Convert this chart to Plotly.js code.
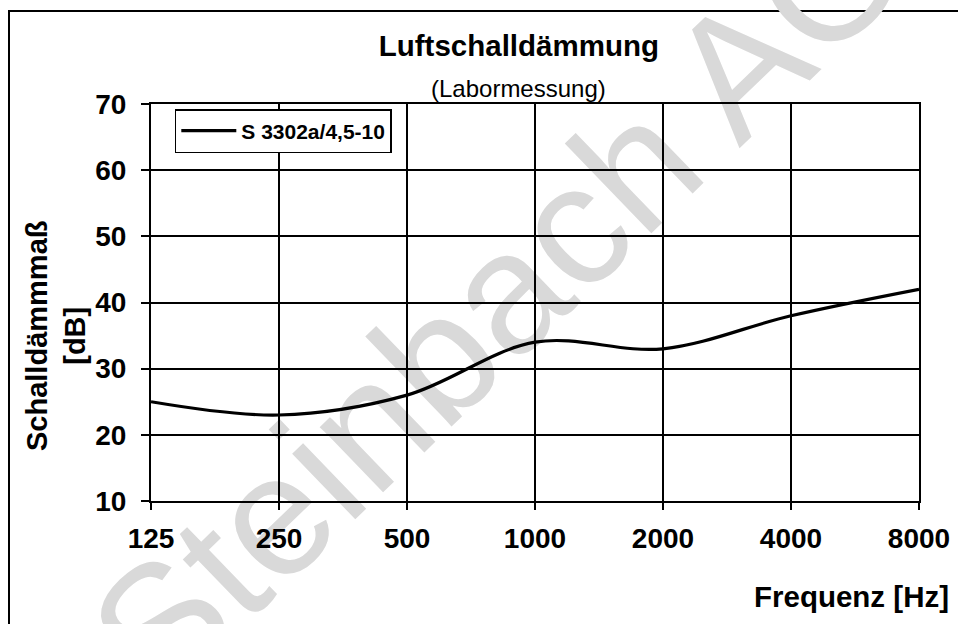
<!DOCTYPE html>
<html><head><meta charset="utf-8">
<script src="https://cdn.plot.ly/plotly-3.0.1.min.js"></script>
<style>
html,body{margin:0;padding:0;width:958px;height:624px;overflow:hidden;background:#fff;}
#frame{position:absolute;left:8px;top:10px;width:1000px;height:700px;border:2px solid #000;box-sizing:border-box;}
#wm{position:absolute;left:498px;top:298px;transform:translate(-50%,-50%) rotate(-44deg);font-family:"Liberation Sans",Arial,sans-serif;font-size:172px;color:#d9d9d9;white-space:nowrap;line-height:1;}
#chart{position:absolute;left:0;top:0;width:958px;height:624px;}
</style></head><body>
<div id="frame"></div>
<div id="wm">Steinbach AG</div>
<div id="chart"></div>
<script>
const frequencies = [125, 250, 500, 1000, 2000, 4000, 8000];
const frequencyLabels = ['125', '250', '500', '1000', '2000', '4000', '8000'];
const soundReduction = [25, 23, 26, 34, 33, 38, 42];
const seriesName = 'S 3302a/4,5-10';
const yTicks = [10, 20, 30, 40, 50, 60, 70];

const FONT = '"Liberation Sans", Arial, sans-serif';

const trace = {
  x: frequencies,
  y: soundReduction,
  name: seriesName,
  type: 'scatter',
  mode: 'lines',
  line: {color: '#000', width: 3.2, shape: 'spline', smoothing: 1},
  showlegend: true
};

const axisCommon = {
  showgrid: true, gridcolor: '#000', gridwidth: 2,
  showline: true, linecolor: '#000', linewidth: 2, mirror: true,
  ticks: 'outside', tickcolor: '#000', tickwidth: 2,
  zeroline: false,
  tickfont: {family: FONT, size: 28, color: '#000', weight: 700}
};

const layout = {
  width: 958, height: 624,
  margin: {l: 151, r: 39, t: 104, b: 123, pad: 0},
  paper_bgcolor: 'rgba(0,0,0,0)',
  plot_bgcolor: 'rgba(0,0,0,0)',
  font: {family: FONT, color: '#000'},
  title: {
    text: 'Luftschalldämmung',
    font: {family: FONT, size: 29.5, color: '#000', weight: 700},
    x: 0.479, xref: 'paper', xanchor: 'center',
    y: 1 - 46 / 624, yref: 'container', yanchor: 'middle'
  },
  xaxis: Object.assign({}, axisCommon, {
    type: 'log',
    range: [Math.log10(125), Math.log10(8000)],
    tickvals: frequencies, ticktext: frequencyLabels,
    ticklen: 7, ticklabelstandoff: 4
  }),
  yaxis: Object.assign({}, axisCommon, {
    range: [10, 70], tickvals: yTicks,
    ticklen: 8, ticklabelstandoff: 9
  }),
  legend: {
    x: 0.031, y: (501 - 109) / 397, xanchor: 'left', yanchor: 'top',
    bgcolor: '#fff', bordercolor: '#000', borderwidth: 1.5,
    font: {family: FONT, size: 21, color: '#000', weight: 700},
    itemwidth: 55
  },
  annotations: [
    {text: '(Labormessung)', xref: 'paper', yref: 'paper', x: 0.479, y: (501 - 88) / 397,
     xanchor: 'center', yanchor: 'middle', showarrow: false,
     font: {family: FONT, size: 24, color: '#000'}},
    {text: 'Schalldämmmaß<br>[dB]', xref: 'paper', yref: 'paper', x: (56 - 151) / 768, y: (501 - 336) / 397,
     xanchor: 'center', yanchor: 'middle', textangle: -90, showarrow: false,
     font: {family: FONT, size: 29, color: '#000', weight: 700}},
    {text: 'Frequenz [Hz]', xref: 'paper', yref: 'paper', x: (951 - 151) / 768, y: (501 - 596) / 397,
     xanchor: 'right', yanchor: 'middle', showarrow: false,
     font: {family: FONT, size: 29.5, color: '#000', weight: 700}}
  ]
};

Plotly.newPlot('chart', [trace], layout, {staticPlot: true, displayModeBar: false});
</script>
</body></html>
